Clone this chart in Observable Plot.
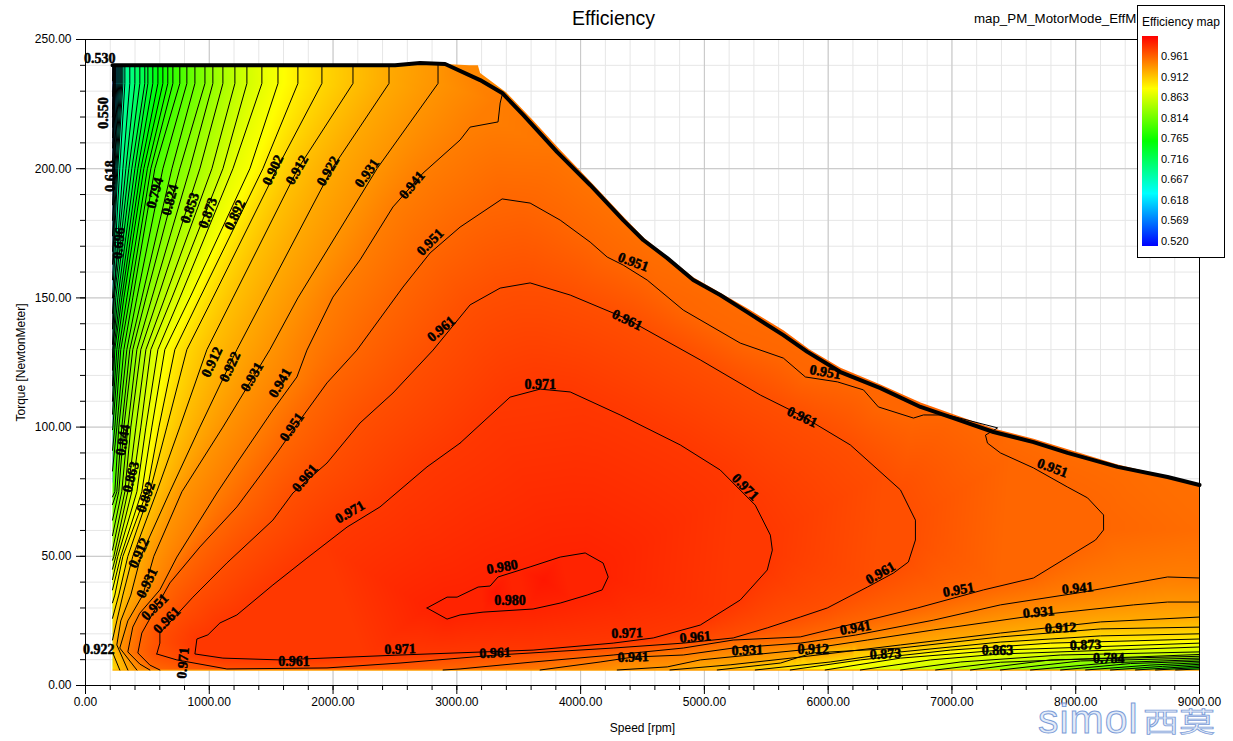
<!DOCTYPE html>
<html><head><meta charset="utf-8">
<script src="https://cdn.jsdelivr.net/npm/d3@7"></script>
<script src="https://cdn.jsdelivr.net/npm/@observablehq/plot@0.6"></script>
<style>
html,body{margin:0;padding:0;background:#fff;overflow:hidden;width:1233px;height:741px;font-family:"Liberation Sans",Arial,sans-serif}
#wrap{position:relative;width:1233px;height:741px}
#wrap svg{display:block;position:absolute;left:0;top:0}
.t{position:absolute;white-space:nowrap;color:#000}
#legend{position:absolute;left:1137px;top:5px;width:86px;height:251px;border:1px solid #000;background:#fff}
</style></head><body><div id="wrap"></div>
<script>
// ---- contour levels reaching the top edge (read at fixed torque rows)
const familyLevels=[.931,.922,.912,.902,.892,.882,.873,.863,.853,.843,.833,.824,.814,.804,.794,.784,.775,.765,.755,.745,.735,.725,.716,.706,.696,.686,.676,.667,.657,.647,.637,.628,.618,.608,.598,.589,.579,.569,.559,.550,.540,.530];
const speedAt240=[2848,2452,2161,1910,1716,1555,1425,1304,1207,1110,1029,965,884,819,762,706,665,625,585,544,504,479,439,399,358,318,302,293,285,277,269,261,253,245,241,237,233,229,226,225,222,221];
const speedAt200=[2355,1991,1716,1547,1433,1328,1191,1110,1021,924,843,762,698,625,560,528,500,471,447,423,399,374,350,326,302,277,261,253,245,237,233,229,225];
const speedAt150=[1716,1442,1191,1029,924,843,762,698,641,585,536,488,455,415,382,358,334,310,293,277,261,245,233,225];
const speedAt130=[1490,1223,981,819,722,641,585,528,488,447,415,382,358,334,310,285,269,253,237,229,221];
const speedAt100=[1110,924,762,657,593,536,488,447,407,366,342,310,293,269,253,237,221];
const speedAt75=[779,682,576,520,496,455,415,374,342,318,293,269,253,237];
const speedAt50=[552,447,382,342,302,285,261,245,229];
const speedAt35=[463,366,302,269,237];
const speedAt25=[342,285,253];
const leftEdgeTorque=[null,null,17.6,26,32,37,41,45,48.5,52.4,58,64,70,73,83,91,99,105,110,116,122,127,132,138,144,150,157,163,168,174,180,186,192,198,203,208,212,216,220,223,228,234];
const tail931=[[277,14.5],[415,6]];
const tail922=[[253,15.7],[342,6]];
const corner912=[[218,12.9],[277,6]];
// ---- closed and long contours, [speed, torque]
const contour980=[[2759,30],[2921,34.2],[3002,34.2],[3172,38.1],[3269,38.5],[3333,42],[3592,45.9],[3835,49.7],[4037,51.3],[4182,47.4],[4223,42],[4174,37],[4053,35],[3835,31.9],[3616,29.6],[3212,28.4],[3026,27.3],[2921,25.7],[2759,30]];
const contour971=[[3026,93.8],[3430,111.6],[3673,114.7],[3916,113.6],[4320,104.7],[4805,93.1],[5128,83.4],[5411,69.8],[5533,58.2],[5549,52.4],[5508,44.7],[5290,33.1],[4967,23.4],[4587,18.4],[4263,16.4],[3616,13.7],[2541,11.8],[1571,9.9],[1110,10.6],[884,12.2],[900,18],[989,19.6],[1086,24.2],[1223,27.3],[1514,38.9],[1789,49.3],[2113,61.3],[2379,69.1],[2759,84.6],[3026,93.8]];
const contour961=[[576,12.2],[601,16.4],[601,20.3],[868,34.2],[1142,47.4],[1514,64],[1676,74.5],[1951,86.1],[2218,101.6],[2484,113.2],[2808,129.8],[3107,147.3],[3350,153.8],[3592,155.8],[3916,151.1],[4360,142.2],[4967,126],[5452,112.4],[5775,104.7],[6179,93.1],[6584,75.7],[6705,64],[6705,56.3],[6648,47.8],[6527,43.5],[6317,38.1],[5993,30],[5775,26.5],[5508,22.3],[5233,18.4],[4829,16.4],[4263,14.5],[3325,11.8],[2541,8.7],[1951,6.8],[1142,6.4],[738,9.9],[576,12.2]];
const contour951=[[601,6],[520,7.9],[423,12.6],[455,20.3],[682,39.7],[924,53.6],[1223,69.1],[1547,90],[1733,102.7],[1951,117.1],[2193,129.8],[2565,154.2],[2784,167.4],[3026,177.4],[3366,188.3],[3592,186.7],[3835,180.1],[4077,171.6],[4215,165.8],[4344,162.7],[4538,156.9],[4829,145.3],[5290,132.5],[5638,126.7],[5816,119.4],[6075,117.5],[6285,114.4],[6406,107.8],[6689,103.5],[6770,104.7],[6964,104.7],[7369,99.7],[7271,96.9],[7287,93.8],[7392,90],[7659,84.2],[7934,76.8],[8096,72.6],[8225,66],[8225,60.2],[8160,56.3],[7659,41.6],[7255,37],[6721,30],[5775,18.8],[5233,17.6],[4829,14.5],[4263,11.8],[3616,9.1],[3026,6.4],[2889,6]];
const contour941Left=[[520,6],[439,8.3],[342,13],[382,22.6],[439,28],[601,37],[738,49.7],[1062,74.5],[1223,86.1],[1514,106.6],[1708,119.4],[1789,129.8],[1999,150.3],[2218,164.7],[2484,185.2],[2727,198.3],[3026,211.1],[3107,216.1],[3333,218.1],[3350,225.4],[3366,228.5]];
const contour941Right=[[3673,6],[4158,9.1],[4425,11],[4829,11.8],[5233,14.5],[5775,16.4],[6220,19.5],[6851,25.3],[7392,31.2],[8015,35.8],[8742,42],[9000,41.6]];
const bottomLevels=[.931,.922,.912,.902,.892,.882,.873,.863,.853,.843,.833,.824,.814,.804,.794,.784,.775,.765];
const bottomCurves=[
[[4296,6],[4700,7.2],[4967,9.9],[5371,11.8],[5775,13.7],[6317,17.6],[6851,21.5],[7700,27.3],[8468,31.2],[8742,32.3],[9000,32.3]],
[[4722,6],[5208,8],[5775,11],[6585,15.7],[7392,20.3],[8201,24.6],[9000,26.5]],
[[5104,6],[5616,8.7],[5873,12.6],[6585,14.5],[7392,18.8],[8201,21.9],[9000,22.6]],
[[5411,6],[6017,9.1],[6585,13],[7392,16.8],[8201,19.2],[9000,20]],
[[5694,6],[6260,9.9],[6988,13.7],[7797,16.4],[9000,18]],
[[5976,6],[6585,10.6],[7392,13.7],[9000,16.4]],
[[6260,6],[6827,9.9],[7392,12.2],[9000,14.9]],
[[6585,6],[7069,9.1],[7878,11.8],[9000,13]],
[[6868,6],[7392,9],[9000,12]],
[[7150,6],[7797,9.9],[9000,11.3]],
[[7392,6],[8039,9.5],[9000,10.6]],
[[7635,6],[8281,8.8],[9000,10]],
[[7878,6],[8443,8.5],[9000,9.4]],
[[8080,6],[8600,7.9],[9000,8.8]],
[[8281,6],[8700,7.4],[9000,8.2]],
[[8483,6],[9000,7.6]],
[[8645,6],[9000,7]],
[[8807,6],[9000,6.4]]];
// ---- torque-speed envelope and edge of the coloured map
const envelope=[[218,240],[2501,240],[2703,240.9],[2905,240.5],[3188,234.3],[3366,229.3],[3536,220.8],[3811,206.4],[4077,193.7],[4344,180.1],[4506,172.4],[4700,165.4],[4910,156.9],[5128,151.1],[5346,144.5],[5638,135.6],[5832,129.1],[6099,121.3],[6422,115.1],[6746,107.8],[7012,103.5],[7336,98.1],[7659,94.2],[7934,90],[8338,84.6],[8742,80.7],[9000,77.6]];
const mapEdge=[[218,240],[2501,240],[2703,240.9],[2905,240.5],[3100,240],[3170,240],[3188,237],[3400,229.5],[3600,219.5],[3830,207.5],[4100,194],[4344,181.5],[4506,173.5],[4910,158],[5346,146],[5638,137.5],[5850,130],[6099,123],[6422,116.5],[6746,109.5],[7012,105],[7336,99.5],[7659,95.5],[8338,85.5],[9000,78],[9000,5.7],[218,5.7]];
// ---- extra colour readings away from contour lines
const extraSamples=[[218,6,.9],[3300,36,.985],[3700,41,.985],[3000,240,.936],[3300,226,.941],[3800,205,.945],[4500,172,.947],[5200,148,.949],[9000,78,.947],[9000,60,.948],[8500,82,.948],[7500,96,.949],[9000,6,.76]];
// ---- contour labels
const labelText=["0.530","0.550","0.618","0.696","0.794","0.824","0.853","0.873","0.892","0.902","0.912","0.922","0.931","0.941","0.951","0.961","0.912","0.922","0.931","0.941","0.951","0.961","0.971","0.844","0.863","0.892","0.912","0.931","0.951","0.961","0.922","0.971","0.961","0.971","0.980","0.980","0.971","0.961","0.961","0.941","0.931","0.912","0.941","0.873","0.961","0.951","0.941","0.931","0.912","0.863","0.873","0.784","0.971","0.961","0.951","0.951","0.961","0.971","0.951"];
const labelSpeed=[116,148,205,269,560,682,843,989,1207,1514,1708,1959,2274,2638,2784,2874,1021,1167,1345,1571,1667,1773,2137,302,366,488,431,496,560,657,108,787,1684,2541,3366,3430,4376,4926,3309,4425,5347,5880,6220,6463,6422,7053,8015,7700,7878,7368,8080,8266,3673,4376,4425,5977,5790,5330,7813];
const labelTorque=[242.8,221.6,197.2,171.2,190.6,187.9,184.8,182.9,182.1,199.5,199.5,199.1,198.3,193.7,171.6,138,125.2,123.3,119.4,117.1,100,80.3,67.1,95,80.7,72.9,51.3,39.7,30.4,25.3,14.1,8.7,9.1,14.1,45.9,32.7,20.3,18.8,12.6,11,13.7,14.1,22.3,12.2,43.5,37,37.7,28.4,22.3,13.7,15.7,10.6,116.3,141.5,163.9,121.3,103.9,76.8,84.2];
const labelAngle=[0,-90,-90,-85,-75,-75,-70,-70,-65,-65,-60,-60,-55,-50,-45,-40,-65,-65,-60,-60,-55,-50,-30,-80,-75,-70,-65,-65,-45,-45,0,-85,0,-2,-10,0,-2,-5,-2,-2,-2,0,-10,-3,-30,-10,-5,-5,-2,0,-2,0,0,25,20,10,25,45,20];
// ---- axes and legend
const xMajor=[0,1000,2000,3000,4000,5000,6000,7000,8000,9000];
const yMajor=[0,50,100,150,200,250];
const xMinor=d3.range(0,9001,200);
const yMinor=d3.range(0,251,10);
const legendTicks=["0.961","0.912","0.863","0.814","0.765","0.716","0.667","0.618","0.569","0.520"];
const colorDomain=[.51,.635,.76,.885,.995];
const colorRange=["#0000ff","#00ffff","#00ff00","#ffff00","#ff0000"];

// assemble line segments
const segs=[];
const add=(level,pts)=>segs.push({level,pts});
const rows=[[240,speedAt240],[233,speedAt240],[200,speedAt200],[150,speedAt150],[130,speedAt130],[100,speedAt100],[75,speedAt75],[50,speedAt50],[35,speedAt35],[25,speedAt25]];
familyLevels.forEach((level,i)=>{
  const end=leftEdgeTorque[i];
  const pts=[];
  for(const [t,a] of rows) if(a[i]!=null&&(end==null||t>end)) pts.push([a[i],t]);
  if(end!=null) pts.push([218,end]);
  if(level===.931) pts.push(...tail931);
  if(level===.922) pts.push(...tail922);
  add(level,pts);
});
add(.912,corner912);
bottomLevels.forEach((l,i)=>add(l,bottomCurves[i]));
add(.98,contour980);add(.971,contour971);add(.961,contour961);add(.951,contour951);add(.941,contour941Left);add(.941,contour941Right);
const lineRows=segs.flatMap((s,k)=>s.pts.map(p=>({x:p[0],y:p[1],v:s.level,k})));
// colour readings: every contour is a line of constant value, so walk along each one
const samples=extraSamples.map(p=>({x:p[0],y:p[1],v:p[2]}));
for(const s of segs){
  for(let i=0;i+1<s.pts.length;i++){
    const [a,b]=s.pts[i],[c,d]=s.pts[i+1];
    const n=Math.max(1,Math.ceil(Math.hypot((c-a)*.1238,(d-b)*2.584)/6));
    for(let j=0;j<n;j++) samples.push({x:a+(c-a)*j/n,y:b+(d-b)*j/n,v:s.level});
  }
  const e=s.pts[s.pts.length-1];samples.push({x:e[0],y:e[1],v:s.level});
}
const clipRaster=(index,scales,values,dims,ctx,next)=>{
  const g=next(index,scales,values,dims,ctx);
  const ns="http://www.w3.org/2000/svg";
  const cp=document.createElementNS(ns,"clipPath");cp.setAttribute("id","mapclip");
  const poly=document.createElementNS(ns,"polygon");
  poly.setAttribute("points",mapEdge.map(p=>[scales.x(p[0]),scales.y(p[1])].join(",")).join(" "));
  cp.appendChild(poly);g.appendChild(cp);g.setAttribute("clip-path","url(#mapclip)");
  return g;
};
const blank=()=>"";
const plot=Plot.plot({
  width:1233,height:741,marginLeft:85,marginRight:34,marginTop:39,marginBottom:56,
  style:{fontFamily:"Liberation Sans, Arial, sans-serif",fontSize:"12px",background:"transparent",color:"#000"},
  x:{domain:[0,9000],axis:null},
  y:{domain:[0,250],axis:null},
  color:{type:"linear",domain:colorDomain,range:colorRange,interpolate:"rgb",legend:false},
  marks:[
    Plot.gridX(xMinor,{stroke:"#e6e6e6",strokeOpacity:1}),
    Plot.gridY(yMinor,{stroke:"#e6e6e6",strokeOpacity:1}),
    Plot.gridX(xMajor,{stroke:"#c6c6c6",strokeOpacity:1}),
    Plot.gridY(yMajor,{stroke:"#c6c6c6",strokeOpacity:1}),
    Plot.raster(samples,{x:"x",y:"y",fill:"v",x1:0,x2:9000,y1:0,y2:250,interpolate:"barycentric",pixelSize:1,render:clipRaster}),
    Plot.line(lineRows,{x:"x",y:"y",z:"k",stroke:"#000",strokeWidth:1,curve:"linear"}),
    Plot.line(envelope,{x:d=>d[0],y:d=>d[1],stroke:"#000",strokeWidth:4,curve:"linear"}),
    Plot.text(labelText,{x:(d,i)=>labelSpeed[i],y:(d,i)=>labelTorque[i],rotate:(d,i)=>labelAngle[i],text:d=>d,fontFamily:"Liberation Serif",fontWeight:"bold",fontSize:14,fill:"#000",stroke:"#000",strokeWidth:.5}),
    Plot.frame({stroke:"#000",strokeOpacity:1}),
    Plot.axisX(xMinor,{tickSize:5,tickFormat:blank,label:null,stroke:"#000",strokeOpacity:1}),
    Plot.axisY(yMinor,{tickSize:5,tickFormat:blank,label:null,stroke:"#000",strokeOpacity:1}),
    Plot.axisX(xMajor,{tickSize:9,tickPadding:3,tickFormat:d=>d.toFixed(2),label:"Speed [rpm]",labelAnchor:"center",labelOffset:46,labelArrow:false,strokeOpacity:1,fontSize:12}),
    Plot.axisY(yMajor,{tickSize:9,tickPadding:5,tickFormat:d=>d.toFixed(2),label:"Torque [NewtonMeter]",labelAnchor:"center",labelOffset:69,labelArrow:false,strokeOpacity:1,fontSize:12})
  ]
});
const wrap=document.getElementById("wrap");
wrap.appendChild(plot);
function text(str,left,top,size,extra){
  const d=document.createElement("div");d.className="t";d.textContent=str;
  d.style.left=left+"px";d.style.top=top+"px";d.style.fontSize=size+"px";d.style.lineHeight="1";
  if(extra) Object.assign(d.style,extra);
  return d;
}
wrap.appendChild(text("Efficiency",572,9,19.5));
wrap.appendChild(text("map_PM_MotorMode_EffM",974,12,13.3));
const lg=document.createElement("div");lg.id="legend";
lg.appendChild(text("Efficiency map",4,10,12));
const bar=document.createElement("div");
bar.style.cssText="position:absolute;left:4px;top:30px;width:16px;height:210px;background:linear-gradient(to top,"+colorRange.join(",")+")";
lg.appendChild(bar);
legendTicks.forEach((t,i)=>lg.appendChild(text(t,23,45+i*20.55,11)));
wrap.appendChild(lg);
const stroke={color:"#e4ecf8",webkitTextStroke:"1px #7d9dd8"};
wrap.appendChild(text("simol",1038,699,41,Object.assign({letterSpacing:"1px"},stroke)));
wrap.appendChild(text("西莫",1143,706,36,Object.assign({fontFamily:"Noto Sans CJK SC",transform:"scaleY(.75)",transformOrigin:"top left"},stroke)));
</script></body></html>
